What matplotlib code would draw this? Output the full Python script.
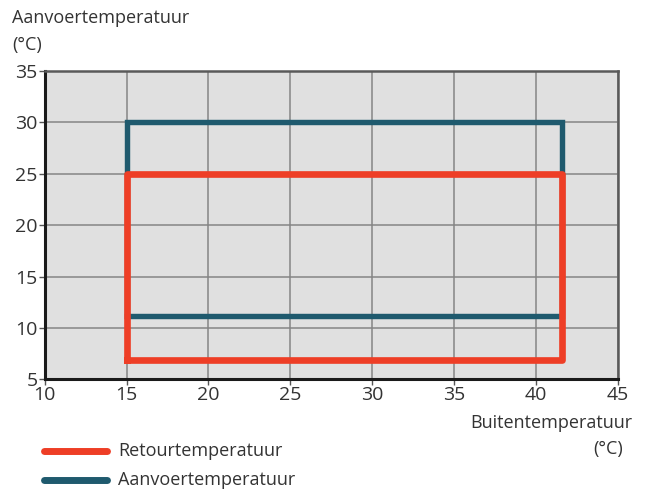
import matplotlib
matplotlib.use("Agg")
import matplotlib.pyplot as plt
from matplotlib.lines import Line2D

plt.rcParams['font.family'] = ['Open Sans', 'DejaVu Sans']

# operating envelope, outdoor temp (x) vs water temp (y)
aanvoer_x = [15, 15, 41.6, 41.6, 15]
aanvoer_y = [11.2, 30, 30, 11.2, 11.2]
retour_x = [15, 15, 41.6, 41.6, 15]
retour_y = [6.9, 25, 25, 6.9, 6.9]

x_ticks = [10, 15, 20, 25, 30, 35, 40, 45]
y_ticks = [5, 10, 15, 20, 25, 30, 35]

red = '#ee3e26'
blue = '#1f5a6e'
txt = '#333333'

fig = plt.figure(figsize=(6.45, 4.94), dpi=100)
ax = fig.add_axes([0.0693, 0.2318, 0.8884, 0.6245])
ax.set_facecolor('#e0e0e0')

ax.plot(aanvoer_x, aanvoer_y, color=blue, lw=3.9, solid_joinstyle='miter', zorder=3)
ax.plot(retour_x, retour_y, color=red, lw=4.8, solid_joinstyle='round', zorder=4)

ax.set_xlim(10, 45)
ax.set_ylim(5, 35)
ax.set_xticks(x_ticks)
ax.set_yticks(y_ticks)
ax.grid(True, color='#858585', lw=1.1)
ax.set_axisbelow(True)

for s in ['left', 'bottom']:
    ax.spines[s].set_color('#1a1a1a')
    ax.spines[s].set_linewidth(2.2)
for s in ['top', 'right']:
    ax.spines[s].set_color('#5a5a5a')
    ax.spines[s].set_linewidth(1.8)

ax.tick_params(axis='both', labelsize=14, labelcolor=txt, color='#555555',
               length=4, width=1, pad=1)

fig.text(12/645, 1 - 18/494, 'Aanvoertemperatuur', fontsize=13, color=txt,
         ha='left', va='center')
fig.text(12/645, 1 - 45/494, '(°C)', fontsize=13, color=txt,
         ha='left', va='center')
fig.text(632/645, 1 - 423/494, 'Buitentemperatuur', fontsize=13, color=txt,
         ha='right', va='center')
fig.text(623/645, 1 - 449/494, '(°C)', fontsize=13, color=txt,
         ha='right', va='center')

# legend drawn by hand below the axes
for yy, col, label in [(451, red, 'Retourtemperatuur'), (480, blue, 'Aanvoertemperatuur')]:
    fig.add_artist(Line2D([44/645, 107/645], [1 - yy/494, 1 - yy/494], color=col,
                          lw=5.0, solid_capstyle='round', transform=fig.transFigure))
    fig.text(118/645, 1 - yy/494, label, fontsize=13, color=txt, ha='left', va='center')

fig.savefig('out.png', dpi=100)
